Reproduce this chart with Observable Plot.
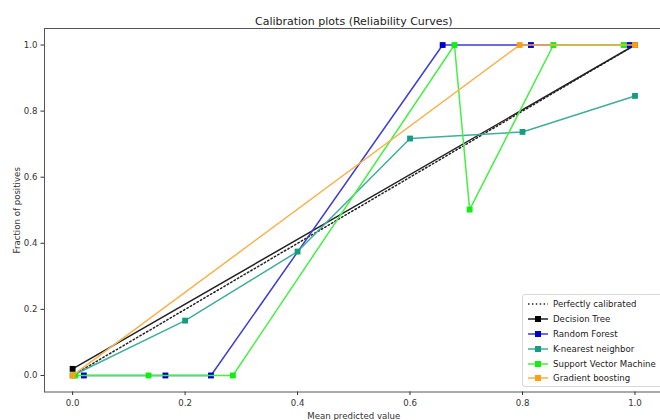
<!DOCTYPE html>
<html><head><meta charset="utf-8">
<script src="https://cdn.jsdelivr.net/npm/d3@7"></script>
<script src="https://cdn.jsdelivr.net/npm/@observablehq/plot@0.6"></script>
<style>
body{margin:0;background:#fff;overflow:hidden}
#wrap{position:relative;width:660px;height:420px;font-family:"DejaVu Sans",sans-serif;overflow:hidden}
#legend{position:absolute;left:522px;top:294px;width:150px;height:93px;background:rgba(255,255,255,0.85);border:1px solid #d8d8d8;border-radius:3px;box-sizing:border-box;padding-top:2px}
.row{display:flex;align-items:center;height:14.8px;font-size:8.6px;color:#222;white-space:nowrap}
.row svg{margin-left:4px;margin-right:4px}
</style></head><body><div id="wrap"></div>
<script>
const title = "Calibration plots (Reliability Curves)";
const xLabel = "Mean predicted value";
const yLabel = "Fraction of positives";
const xTicks = [0, 0.2, 0.4, 0.6, 0.8, 1.0];
const yTicks = [0, 0.2, 0.4, 0.6, 0.8, 1.0];

const perfLabel = "Perfectly calibrated";
const perfX = [0, 1];
const perfY = [0, 1];

const models = ["Decision Tree", "Random Forest", "K-nearest neighbor", "Support Vector Machine", "Gradient boosting"];
const colors = ["#000000", "#0000cc", "#139e84", "#11ee11", "#ff9f10"];
const lineColors = ["#222222", "#3d3dd6", "#40ad9a", "#44f044", "#f7b24a"];

const dtX = [0, 1.0];
const dtY = [0.02, 1.0];
const rfX = [0.02, 0.165, 0.246, 0.658, 0.815, 0.99];
const rfY = [0, 0, 0, 1.0, 1.0, 1.0];
const knnX = [0, 0.2, 0.4, 0.6, 0.8, 1.0];
const knnY = [0, 0.166, 0.375, 0.717, 0.737, 0.846];
const svmX = [0.005, 0.135, 0.285, 0.679, 0.706, 0.855, 0.98];
const svmY = [0, 0, 0, 1.0, 0.502, 1.0, 1.0];
const gbX = [0, 0.795, 1.0];
const gbY = [0, 1.0, 1.0];

const seriesX = [dtX, rfX, knnX, svmX, gbX];
const seriesY = [dtY, rfY, knnY, svmY, gbY];

const series = models.map((m, k) => seriesX[k].map((x, i) => ({model: m, x, y: seriesY[k][i]})));
const perf = perfX.map((x, i) => ({x, y: perfY[i]}));

const marks = [
  Plot.frame({stroke: "#555", strokeWidth: 1}),
  Plot.line(perf, {x: "x", y: "y", stroke: "#222", strokeWidth: 1.5, strokeDasharray: "1.5,2.4"})
];
series.forEach((s, k) => {
  marks.push(Plot.line(s, {x: "x", y: "y", stroke: lineColors[k], strokeWidth: 1.5}));
  marks.push(Plot.dot(s, {x: "x", y: "y", symbol: "square", r: 3.3, fill: colors[k], stroke: "none"}));
});
marks.push(
  Plot.axisX({ticks: xTicks, tickFormat: d => d.toFixed(1), tickSize: 3.5, tickPadding: 4, fontSize: 8.6, color: "#333",
    label: xLabel, labelAnchor: "center", labelArrow: "none", labelOffset: 27}),
  Plot.axisY({ticks: yTicks, tickFormat: d => d.toFixed(1), tickSize: 3.5, tickPadding: 3.5, fontSize: 8.6, color: "#333",
    label: yLabel, labelAnchor: "center", labelArrow: "none", labelOffset: 31}),
  Plot.text([title], {frameAnchor: "top", dy: -11, fontSize: 11, fill: "#222"})
);

const chart = Plot.plot({
  width: 660, height: 420,
  marginLeft: 44, marginTop: 28, marginBottom: 28.5, marginRight: -2.6,
  style: {fontFamily: "DejaVu Sans, sans-serif", fontSize: "10px", background: "#fff", overflow: "visible"},
  x: {domain: [-0.05, 1.05]},
  y: {domain: [-0.05, 1.05]},
  marks
});
const wrap = document.getElementById("wrap");
wrap.appendChild(chart);

// legend
const leg = document.createElement("div");
leg.id = "legend";
const entries = [{label: perfLabel, color: "#222", dotted: true}].concat(models.map((m, k) => ({label: m, color: colors[k], line: lineColors[k]})));
entries.forEach(e => {
  const row = document.createElement("div");
  row.className = "row";
  const sw = e.dotted
    ? `<svg width="22" height="8"><line x1="1" y1="4" x2="21" y2="4" stroke="${e.color}" stroke-width="1.5" stroke-dasharray="1.5,2.4"/></svg>`
    : `<svg width="22" height="8"><line x1="1" y1="4" x2="21" y2="4" stroke="${e.line}" stroke-width="1.5"/><rect x="8" y="1" width="6" height="6" fill="${e.color}"/></svg>`;
  row.innerHTML = sw + `<span>${e.label}</span>`;
  leg.appendChild(row);
});
wrap.appendChild(leg);
</script>
</body></html>
